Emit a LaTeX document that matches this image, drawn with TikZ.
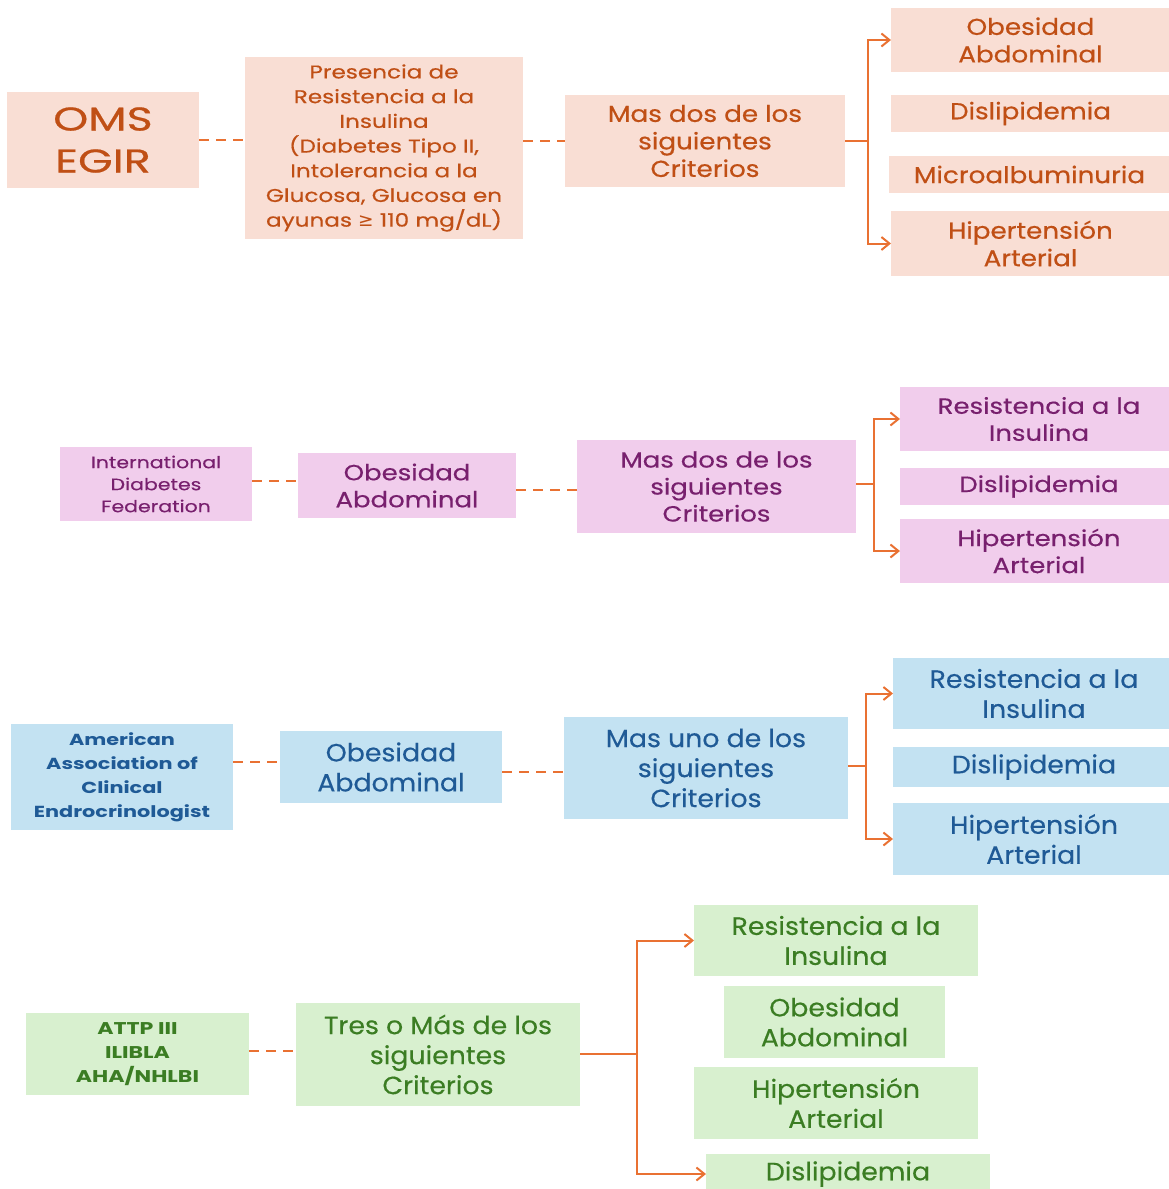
\documentclass[tikz,border=0pt]{standalone}
\usepackage{fontspec}
\setmainfont{Poppins}
\newfontfamily\symfont{DejaVu Sans}
\usetikzlibrary{arrows.meta}
\definecolor{fillA}{HTML}{F9DED4}
\definecolor{textA}{HTML}{C04F15}
\definecolor{fillB}{HTML}{F1CDEC}
\definecolor{textB}{HTML}{78206E}
\definecolor{fillC}{HTML}{C3E2F2}
\definecolor{textC}{HTML}{1F5A96}
\definecolor{fillD}{HTML}{D8F0CF}
\definecolor{textD}{HTML}{3B7D23}
\definecolor{linkc}{HTML}{E97132}
\newcommand\mybox[7]{\node[#1, minimum width={#5-#3}, minimum height={#6-#4}] (#2) at ({(#3+#5)/2},{(#4+#6)/2}) {#7};}
\newcommand\fset[4]{\fontsize{#1}{#2}\selectfont\addfontfeatures{FakeStretch=#3,FakeBold=#4}}
\tikzset{
  boxbase/.style={inner sep=0pt, outer sep=0pt, align=center, anchor=center},
  rowA/.style={boxbase, fill=fillA, text=textA},
  rowB/.style={boxbase, fill=fillB, text=textB},
  rowC/.style={boxbase, fill=fillC, text=textC},
  rowD/.style={boxbase, fill=fillD, text=textD},
  dashlink/.style={draw=linkc, line width=2pt, dash pattern=on 10pt off 7pt},
  solidlink/.style={draw=linkc, line width=2pt},
  arrowlink/.style={draw=linkc, line width=2pt, -{Straight Barb[length=8pt,width=13pt,line width=2pt]}},
  fs/.style n args={4}{font=\fset{#1}{#2}{#3}{#4}},
  fsb/.style n args={3}{font=\bfseries\fset{#1}{#2}{#3}{0}},
}
\begin{document}
\begin{tikzpicture}[x=1pt,y=-1pt]
\useasboundingbox (0,0) rectangle (1168,1189);
% ---------------- Row A : OMS / EGIR ----------------
\mybox{rowA,fs={33}{42}{1.35}{0.6}}{oms}{7}{92}{199}{188}{OMS\\EGIR}
\mybox{rowA,fs={18.5}{24.7}{1.25}{0.5}}{pres}{245}{57}{523}{239}{Presencia de\\Resistencia a la\\Insulina\\(Diabetes Tipo II,\\Intolerancia a la\\Glucosa, Glucosa en\\ayunas {\symfont ≥} 110 mg/dL)}
\mybox{rowA,fs={23}{27.5}{1.14}{0.5}}{masA}{565}{95}{845}{187}{Mas dos de los\\siguientes\\Criterios}
\mybox{rowA,fs={23}{27.5}{1.14}{0.5}}{obA}{891}{8}{1170}{72}{Obesidad\\Abdominal}
\mybox{rowA,fs={23}{27.5}{1.14}{0.5}}{disA}{891}{95}{1170}{132}{Dislipidemia}
\mybox{rowA,fs={23}{27.5}{1.14}{0.5}}{micA}{889}{156}{1170}{193}{Microalbuminuria}
\mybox{rowA,fs={23}{27.5}{1.14}{0.5}}{hipA}{891}{211}{1170}{276}{Hipertensión\\Arterial}
\coordinate (jA) at (868,141);
\draw[dashlink] (oms.east) -- (oms.east -| pres.west);
\draw[dashlink] (masA.west -| pres.east) -- (masA.west);
\draw[solidlink] (masA.east) -- (jA);
\draw[arrowlink] (jA) |- (obA.west);
\draw[arrowlink] (jA) |- (hipA.west);
% ---------------- Row B : IDF ----------------
\mybox{rowB,fs={16.5}{22}{1.24}{0.3}}{idf}{60}{447}{252}{521}{International\\Diabetes\\Federation}
\mybox{rowB,fs={22}{27}{1.18}{0.4}}{obB}{298}{453}{516}{518}{Obesidad\\Abdominal}
\mybox{rowB,fs={22}{27}{1.18}{0.4}}{masB}{577}{440}{856}{533}{Mas dos de los\\siguientes\\Criterios}
\mybox{rowB,fs={22}{27}{1.18}{0.4}}{resB}{900}{387}{1178}{451}{Resistencia a la\\Insulina}
\mybox{rowB,fs={22}{27}{1.18}{0.4}}{disB}{900}{468}{1178}{505}{Dislipidemia}
\mybox{rowB,fs={22}{27}{1.18}{0.4}}{hipB}{900}{519}{1178}{583}{Hipertensión\\Arterial}
\coordinate (jB) at (874,484);
\coordinate (dB) at (0,481);
\draw[dashlink] (idf.east |- dB) -- (obB.west |- dB);
\coordinate (dB2) at (0,490);
\draw[dashlink] (obB.east |- dB2) -- (masB.west |- dB2);
\draw[solidlink] (masB.east |- jB) -- (jB);
\draw[arrowlink] (jB) |- (resB.west);
\draw[arrowlink] (jB) |- (hipB.west);
% ---------------- Row C : AACE ----------------
\mybox{rowC,fsb={16}{24}{1.3}}{aace}{11}{724}{233}{830}{American\\Association of\\Clinical\\Endrocrinologist}
\mybox{rowC,fs={25}{30}{1.07}{0.3}}{obC}{280}{731}{502}{803}{Obesidad\\Abdominal}
\mybox{rowC,fs={25}{30}{1.07}{0.3}}{masC}{564}{717}{848}{819}{Mas uno de los\\siguientes\\Criterios}
\mybox{rowC,fs={25}{30}{1.07}{0.3}}{resC}{893}{658}{1175}{729}{Resistencia a la\\Insulina}
\mybox{rowC,fs={25}{30}{1.07}{0.3}}{disC}{893}{747}{1175}{787}{Dislipidemia}
\mybox{rowC,fs={25}{30}{1.07}{0.3}}{hipC}{893}{803}{1175}{875}{Hipertensión\\Arterial}
\coordinate (jC) at (866,766);
\coordinate (dC) at (0,762);
\draw[dashlink] (aace.east |- dC) -- (obC.west |- dC);
\coordinate (dC2) at (0,772);
\draw[dashlink] (obC.east |- dC2) -- (masC.west |- dC2);
\draw[solidlink] (masC.east |- jC) -- (jC);
\draw[arrowlink] (jC) |- (resC.west);
\draw[arrowlink] (jC) |- (hipC.west);
% ---------------- Row D : ATTP III ----------------
\mybox{rowD,fsb={17}{24}{1.3}}{attp}{26}{1013}{249}{1095}{ATTP III\\ILIBLA\\AHA/NHLBI}
\mybox{rowD,fs={25}{30}{1.07}{0.3}}{tres}{296}{1003}{580}{1106}{Tres o Más de los\\siguientes\\Criterios}
\mybox{rowD,fs={25}{30}{1.07}{0.3}}{resD}{694}{905}{978}{976}{Resistencia a la\\Insulina}
\mybox{rowD,fs={25}{30}{1.07}{0.3}}{obD}{724}{986}{945}{1058}{Obesidad\\Abdominal}
\mybox{rowD,fs={25}{30}{1.07}{0.3}}{hipD}{694}{1067}{978}{1139}{Hipertensión\\Arterial}
\mybox{rowD,fs={25}{30}{1.07}{0.3}}{disD}{706}{1154}{990}{1194}{Dislipidemia}
\coordinate (jD) at (637,1054);
\coordinate (dD) at (0,1051);
\draw[dashlink] (attp.east |- dD) -- (tres.west |- dD);
\draw[solidlink] (tres.east |- jD) -- (jD);
\draw[arrowlink] (jD) |- (resD.west);
\draw[arrowlink] (jD) |- (disD.west);
\end{tikzpicture}
\end{document}
